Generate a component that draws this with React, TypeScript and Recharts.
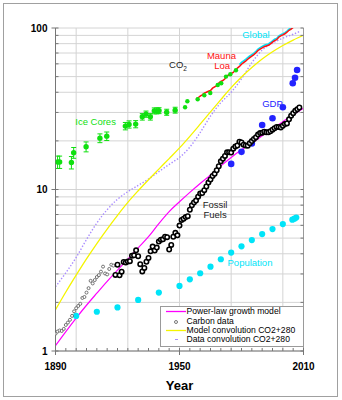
import {
  CartesianGrid,
  ComposedChart,
  ErrorBar,
  Legend,
  Line,
  ReferenceDot,
  ReferenceLine,
  Scatter,
  XAxis,
  YAxis,
} from "recharts";

const FONT = '"Liberation Sans", Arial, Helvetica, sans-serif';

const MAGENTA = "#ff00ff";
const YELLOW = "#f4f400";
const PURPLE = "#a98cff";
const RED = "#ff1010";
const CYAN = "#00e4f8";
const GREEN = "#10e010";
const BLUE = "#2323ff";
const GRID = "#d4d4d4";
const AXIS = "#767676";

// 5-year steps for the model curves
const CONV_YEARS = [
  1890, 1895, 1900, 1905, 1910, 1915, 1920, 1925, 1930, 1935, 1940, 1945, 1950,
  1955, 1960, 1965, 1970, 1975, 1980, 1985, 1990, 1995, 2000, 2005, 2010,
];
const POWER_LAW = [
  1.08, 1.32, 1.6, 1.92, 2.28, 2.7, 3.17, 3.7, 4.35, 5.1, 6.15, 7.3, 8.4, 9.6,
  10.9, 12.3, 14.0, 15.8, 17.6, 19.4, 21.5, 23.8, 26.3, 29.0, 31.8,
];
const MODEL_CONV = [
  1.8, 2.32, 2.95, 3.72, 4.63, 5.69, 6.92, 8.32, 9.82, 11.49, 13.37, 15.54,
  18.09, 21.35, 25.37, 30.22, 36.0, 42.7, 49.7, 56.9, 64.2, 71.2, 77.9, 84.2,
  90.2,
];
const DATA_CONV_YEARS = [
  1890, 1895, 1900, 1905, 1910, 1915, 1920, 1925, 1930, 1935, 1940, 1945, 1950,
  1955, 1960, 1965, 1970, 1975, 1980, 1985, 1990, 1995, 2000, 2005, 2008,
];
const DATA_CONV = [
  2.5, 3.05, 3.8, 4.9, 6.2, 7.5, 8.7, 9.7, 10.6, 11.6, 12.9, 14.3, 15.8, 18.3,
  22.5, 28.5, 34.5, 40.0, 48.5, 61.0, 73.0, 80.5, 86.5, 91.5, 95.0,
];

// fossil carbon, one value per year
const CARBON_EARLY_START = 1890;
const CARBON_EARLY = [
  1.28, 1.32, 1.34, 1.33, 1.37, 1.45, 1.5, 1.56, 1.65, 1.76, 1.84, 1.9, 1.96,
  2.13, 2.16, 2.3, 2.45, 2.72, 2.62, 2.75, 2.87, 2.95, 3.1, 3.33, 3.02, 2.98,
  3.22, 3.42, 3.38,
];
const CARBON_LATE_START = 1919;
const CARBON_LATE = [
  2.96, 3.42, 2.94, 3.1, 3.56, 3.53, 3.58, 3.6, 3.89, 3.91, 4.2, 3.86, 3.45,
  3.11, 3.27, 3.57, 3.77, 4.14, 4.43, 4.19, 4.37, 4.76, 4.89, 4.92, 5.1, 5.07,
  4.25, 4.54, 5.1, 5.39, 5.2, 5.98, 6.48, 6.59, 6.75, 6.84, 7.49, 7.99, 8.32,
  8.54, 9.03, 9.45, 9.51, 9.9, 10.44, 11.03, 11.53, 12.12, 12.51, 13.16, 13.93,
  14.95, 15.51, 16.13, 17.0, 17.03, 16.92, 17.91, 18.44, 18.72, 19.75, 19.55,
  18.95, 18.75, 18.68, 19.36, 19.94, 20.56, 21.09, 21.87, 22.36, 22.47, 22.8,
  22.6, 22.6, 22.98, 23.46, 23.99, 24.39, 24.36, 24.24, 24.81, 25.4, 25.65,
  27.19, 28.63, 29.68, 30.69, 31.41, 32.2,
];

const MAUNA_LOA_START = 1958;
const MAUNA_LOA = [
  36.3, 37.0, 37.9, 38.6, 39.5, 40.0, 40.6, 41.0, 42.4, 43.2, 44.0, 45.6, 46.7,
  47.3, 48.5, 50.7, 51.2, 52.1, 53.1, 54.8, 56.4, 57.8, 59.7, 61.1, 62.4, 64.0,
  65.6, 67.0, 68.4, 70.2, 72.6, 74.1, 75.4, 76.6, 77.4, 78.1, 79.8, 81.8, 83.6,
  84.7, 87.7, 89.4, 90.6, 92.1, 94.2, 96.8, 98.5, 100.8, 102.9, 104.8, 106.6,
];
const GLOBAL_START = 1979;
const GLOBAL_CO2 = [
  59.3, 61.2, 62.6, 63.9, 65.5, 67.1, 68.5, 69.9, 71.7, 74.1, 75.6, 76.9, 78.1,
  78.9, 79.6, 81.3, 83.3, 85.1, 86.2, 89.2, 90.9, 92.1, 93.6, 95.7, 98.3, 100.0,
  102.3, 104.4, 106.3, 108.1,
];

const ICE_YEARS = [
  1891, 1892, 1897.7, 1898.8, 1904.8, 1911.5, 1914.8, 1923.8, 1925.6, 1928.8,
  1932.0, 1933.8, 1935.9, 1937.8, 1939.0, 1940.1, 1943.8, 1947.9,
];
const ICE_CO2 = [
  14.8, 14.8, 14.7, 16.9, 18.4, 20.8, 21.4, 24.7, 25.3, 25.4, 28.2, 29.3, 28.2,
  30.7, 30.7, 30.8, 30.1, 31.0,
];
const ICE_ERR = 1.3;
const ICE_RECENT_YEARS = [
  1952.7, 1953.8, 1958.8, 1962.0, 1964.9, 1968.5, 1970.2, 1972.5, 1974.6, 1977.3,
];
const ICE_RECENT = [32.3, 35.2, 36.2, 38.3, 39.6, 44.4, 45.5, 50.0, 51.7, 54.7];

const GDP_YEARS = [1975, 1980, 1985, 1990, 1995, 2000, 2004.8, 2005.9, 2006.9];
const GDP = [14.4, 17.1, 19.3, 25.1, 27.6, 32.3, 45.5, 49.2, 55.0];

const POP_YEARS = [
  1900, 1910, 1920, 1930, 1940, 1950, 1955, 1960, 1965, 1970, 1975, 1980, 1985,
  1990, 1995, 2000, 2004.6, 2005.6, 2006.5,
];
const POPULATION = [
  1.65, 1.75, 1.86, 2.07, 2.3, 2.53, 2.78, 3.03, 3.33, 3.7, 4.07, 4.45, 4.86,
  5.3, 5.69, 6.11, 6.5, 6.6, 6.7,
];

const X_TICKS = [
  1890, 1895, 1900, 1905, 1910, 1915, 1920, 1925, 1930, 1935, 1940, 1945, 1950,
  1955, 1960, 1965, 1970, 1975, 1980, 1985, 1990, 1995, 2000, 2005, 2010,
];
const X_LABELS = [1890, 1950, 2010];
const X_GRID = [1900, 1925, 1950, 1975, 2000];
const Y_TICKS = [
  1, 2, 3, 4, 5, 6, 7, 8, 9, 10, 20, 30, 40, 50, 60, 70, 80, 90, 100,
];
const Y_LABELS = [1, 10, 100];

const NOTES = [
  { text: "Ice Cores", year: 1909.4, value: 26.2, color: GREEN },
  { text: "Mauna", year: 1970.3, value: 67.1, color: RED },
  { text: "Loa", year: 1970.6, value: 58.2, color: RED },
  { text: "Global", year: 1987.0, value: 90.5, color: CYAN },
  { text: "GDP", year: 1995.0, value: 33.8, color: BLUE },
  { text: "Fossil", year: 1967.2, value: 8.02, color: "#222" },
  { text: "Fuels", year: 1967.2, value: 6.95, color: "#222" },
  { text: "Population", year: 1984.1, value: 3.51, color: CYAN },
];
const CO2_NOTE = { year: 1949.3, value: 59.0 };

const LEGEND_LABELS = [
  "Power-law growth model",
  "Carbon data",
  "Model convolution CO2+280",
  "Data convolution CO2+280",
];

const pairs = (xs: number[], ys: number[]) =>
  xs.map((year, i) => ({ year, v: ys[i] }));
const annual = (start: number, ys: number[]) =>
  ys.map((v, i) => ({ year: start + i, v }));

const powerLawRows = pairs(CONV_YEARS, POWER_LAW);
const modelConvRows = pairs(CONV_YEARS, MODEL_CONV);
const dataConvRows = pairs(DATA_CONV_YEARS, DATA_CONV);
const carbonEarlyRows = annual(CARBON_EARLY_START, CARBON_EARLY);
const carbonLateRows = annual(CARBON_LATE_START, CARBON_LATE);
const maunaLoaRows = annual(MAUNA_LOA_START, MAUNA_LOA);
const globalRows = annual(GLOBAL_START, GLOBAL_CO2);
const iceRows = ICE_YEARS.map((year, i) => ({
  year,
  v: ICE_CO2[i],
  err: ICE_ERR,
}));
const iceRecentRows = pairs(ICE_RECENT_YEARS, ICE_RECENT);
const gdpRows = pairs(GDP_YEARS, GDP);
const popRows = pairs(POP_YEARS, POPULATION);

const dot = (r: number, fill: string, stroke = "none", sw = 0) =>
  function DotShape(p: any) {
    if (p.cx == null || p.cy == null) return <g />;
    return (
      <circle
        cx={p.cx}
        cy={p.cy}
        r={r}
        fill={fill}
        stroke={stroke}
        strokeWidth={sw}
      />
    );
  };

const BottomTick = ({ x, y, payload }: any) => {
  const labeled = X_LABELS.includes(payload.value);
  return (
    <g>
      <line
        x1={x}
        x2={x}
        y1={y - 3}
        y2={labeled ? y + 4 : y}
        stroke={AXIS}
      />
      {labeled ? (
        <text
          x={x}
          y={y + 18.5}
          textAnchor="middle"
          fontFamily={FONT}
          fontSize={10}
          fontWeight="bold"
          fill="#000"
        >
          {payload.value}
        </text>
      ) : null}
    </g>
  );
};

const LeftTick = ({ x, y, payload }: any) => {
  const labeled = Y_LABELS.includes(payload.value);
  return (
    <g>
      <line x1={labeled ? x - 4 : x} x2={x + 3} y1={y} y2={y} stroke={AXIS} />
      {labeled ? (
        <text
          x={x - 8}
          y={y + 3.6}
          textAnchor="end"
          fontFamily={FONT}
          fontSize={10}
          fontWeight="bold"
          fill="#000"
        >
          {payload.value}
        </text>
      ) : null}
    </g>
  );
};

const RightTick = ({ x, y }: any) => (
  <line x1={x - 3} x2={x} y1={y} y2={y} stroke={AXIS} />
);

const noteShape = (text: string, color: string) =>
  function NoteShape(p: any) {
    return (
      <text
        x={p.cx}
        y={p.cy + 3.3}
        textAnchor="middle"
        fontFamily={FONT}
        fontSize={9.5}
        fill={color}
      >
        {text}
      </text>
    );
  };

const Co2Shape = (p: any) => (
  <text
    x={p.cx}
    y={p.cy + 3.3}
    textAnchor="middle"
    fontFamily={FONT}
    fontSize={9.5}
    fill="#222"
  >
    CO
    <tspan fontSize={6.5} dy={2.5}>
      2
    </tspan>
  </text>
);

const LegendSample = ({ index }: { index: number }) => {
  if (index === 0) {
    return <line x1={5} x2={25} y1={4.5} y2={4.5} stroke={MAGENTA} strokeWidth={1.3} />;
  }
  if (index === 1) {
    return <circle cx={15} cy={5} r={1.5} fill="none" stroke="#555" strokeWidth={0.8} />;
  }
  if (index === 2) {
    return <line x1={5} x2={25} y1={4.5} y2={4.5} stroke={YELLOW} strokeWidth={1.3} />;
  }
  return <line x1={14} x2={17} y1={4.5} y2={4.5} stroke={PURPLE} strokeWidth={1} />;
};

const LegendBox = () => (
  <div
    style={{
      background: "#fff",
      border: "1px solid #9a9a9a",
      boxSizing: "border-box",
      color: "#000",
      fontFamily: FONT,
      fontSize: 8.6,
      height: 41,
      width: 144,
    }}
  >
    {LEGEND_LABELS.map((label, i) => (
      <div
        key={label}
        style={{ alignItems: "center", display: "flex", height: 9.4 }}
      >
        <svg width={25.5} height={9} style={{ flexShrink: 0 }}>
          <LegendSample index={i} />
        </svg>
        <span style={{ lineHeight: "9px", whiteSpace: "nowrap" }}>{label}</span>
      </div>
    ))}
  </div>
);

export default function App() {
  return (
    <div
      style={{
        background: "#fff",
        height: 400,
        left: 0,
        position: "fixed",
        top: 0,
        width: 342,
      }}
    >
      <div
        style={{
          border: "1px solid #a0a0a0",
          boxSizing: "border-box",
          height: 394,
          left: 3,
          position: "absolute",
          top: 3,
          width: 335,
        }}
      />
      <ComposedChart
        width={342}
        height={400}
        margin={{ bottom: 0, left: 5.5, right: 37.5, top: 28 }}
      >
        <CartesianGrid stroke={GRID} vertical={false} />
        {X_GRID.map((yr) => (
          <ReferenceLine key={yr} x={yr} stroke={GRID} strokeWidth={1} />
        ))}
        <XAxis
          dataKey="year"
          type="number"
          domain={[1890, 2010]}
          allowDataOverflow
          ticks={X_TICKS}
          interval={0}
          tick={BottomTick}
          tickLine={false}
          tickSize={0}
          tickMargin={0}
          axisLine={{ stroke: AXIS }}
          height={49}
          label={{
            value: "Year",
            position: "insideBottom",
            offset: 10,
            fill: "#000",
            fontFamily: FONT,
            fontSize: 13,
            fontWeight: "bold",
          }}
        />
        <YAxis
          type="number"
          scale="log"
          domain={[1, 100]}
          allowDataOverflow
          ticks={Y_TICKS}
          interval={0}
          tick={LeftTick}
          tickLine={false}
          tickSize={0}
          tickMargin={0}
          axisLine={{ stroke: AXIS }}
          width={50}
        />
        <YAxis
          yAxisId="right"
          orientation="right"
          type="number"
          scale="log"
          domain={[1, 100]}
          allowDataOverflow
          ticks={Y_TICKS}
          interval={0}
          tick={RightTick}
          tickLine={false}
          tickSize={0}
          tickMargin={0}
          axisLine={{ stroke: "#9a9a9a" }}
          width={1}
        />
        <Line
          data={dataConvRows}
          dataKey="v"
          type="monotone"
          stroke={PURPLE}
          strokeWidth={1.4}
          strokeDasharray="1.4 1.8"
          dot={false}
          isAnimationActive={false}
        />
        <Line
          data={modelConvRows}
          dataKey="v"
          type="monotone"
          stroke={YELLOW}
          strokeWidth={1.3}
          dot={false}
          isAnimationActive={false}
        />
        <Line
          data={powerLawRows}
          dataKey="v"
          type="monotone"
          stroke={MAGENTA}
          strokeWidth={1.2}
          dot={false}
          isAnimationActive={false}
        />
        <Line
          data={globalRows}
          dataKey="v"
          type="linear"
          stroke={CYAN}
          strokeWidth={1.6}
          dot={false}
          isAnimationActive={false}
        />
        <Line
          data={maunaLoaRows}
          dataKey="v"
          type="linear"
          stroke={RED}
          strokeWidth={1.5}
          dot={false}
          isAnimationActive={false}
        />
        <Scatter
          data={popRows}
          dataKey="v"
          shape={dot(3.1, CYAN)}
          isAnimationActive={false}
        />
        <Scatter
          data={gdpRows}
          dataKey="v"
          shape={dot(3.3, BLUE)}
          isAnimationActive={false}
        />
        <Scatter
          data={carbonEarlyRows}
          dataKey="v"
          shape={dot(1.5, "#fff", "#555", 0.8)}
          isAnimationActive={false}
        />
        <Scatter
          data={carbonLateRows}
          dataKey="v"
          shape={dot(2.2, "#fff", "#000", 1.6)}
          isAnimationActive={false}
        />
        <Scatter
          data={iceRows}
          dataKey="v"
          shape={dot(2.7, GREEN)}
          isAnimationActive={false}
        >
          <ErrorBar
            dataKey="err"
            direction="y"
            width={2.5}
            stroke={GREEN}
            strokeWidth={1}
          />
        </Scatter>
        <Scatter
          data={iceRecentRows}
          dataKey="v"
          shape={dot(2.2, GREEN)}
          isAnimationActive={false}
        />
        {NOTES.map((n) => (
          <ReferenceDot
            key={n.text}
            x={n.year}
            y={n.value}
            r={1}
            shape={noteShape(n.text, n.color)}
          />
        ))}
        <ReferenceDot
          x={CO2_NOTE.year}
          y={CO2_NOTE.value}
          r={1}
          shape={Co2Shape}
        />
        <Legend
          content={<LegendBox />}
          layout="vertical"
          align="center"
          verticalAlign="middle"
          wrapperStyle={{ height: 41, left: 160, top: 306, width: 144 }}
        />
      </ComposedChart>
    </div>
  );
}
